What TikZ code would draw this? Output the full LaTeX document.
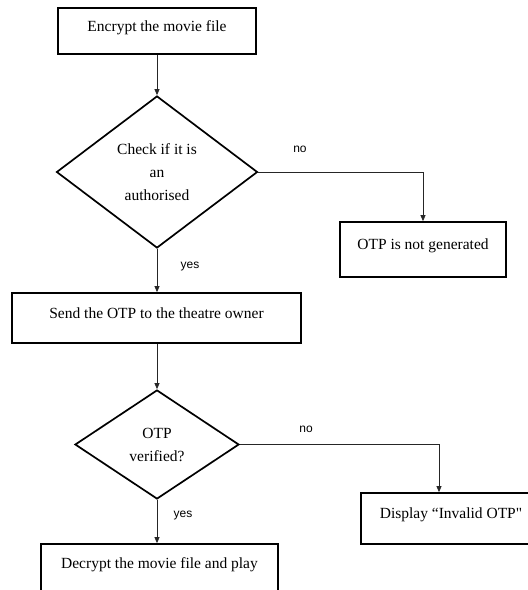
\documentclass[tikz,border=0pt]{standalone}
\usepackage{fontspec}
\setmainfont{Liberation Serif}
\newfontfamily\plainserif[Ligatures=TeXOff]{Liberation Serif}
\newfontfamily\labelfont{Liberation Sans}
\usetikzlibrary{shapes.geometric,arrows.meta}

\tikzset{
  stepbox/.style={draw, line width=1.7pt, rectangle, inner sep=0pt,
    font=\fontsize{15.5}{17}\selectfont, text height=10pt, text depth=10pt},
  decision/.style={draw, line width=1.7pt, diamond, inner sep=0pt,
    align=center, font=\fontsize{15.5}{23}\selectfont},
  flow/.style={draw=black!85, line width=0.7pt, -{Triangle[length=6pt,width=5pt]}},
  branch/.style={font=\labelfont\fontsize{12}{14}\selectfont},
}

\begin{document}
\begin{tikzpicture}[x=1pt, y=-1pt]
  \useasboundingbox (0,0) rectangle (528,590);
  \clip (0,0) rectangle (528,590);

  % process boxes
  \node[stepbox, minimum width=198pt, minimum height=46pt] (encrypt) at (157,31) {Encrypt the movie file};
  \node[stepbox, minimum width=166pt, minimum height=55pt] (nootp) at (423,249.5) {OTP is not generated};
  \node[stepbox, minimum width=289pt, minimum height=50pt] (send) at (156.5,318) {Send the OTP to the theatre owner};
  \node[stepbox, minimum width=180pt, minimum height=51pt] (invalid) at (451,518.5) {Display “Invalid OTP{\plainserif "}};
  \node[stepbox, minimum width=237pt, minimum height=49pt] (decrypt) at (159.5,568.5) {Decrypt the movie file and play};

  % decisions
  \node[decision, minimum width=201pt, minimum height=152pt] (auth) at (157,172) {Check if it is\\an\\authorised};
  \node[decision, minimum width=164pt, minimum height=109pt] (verify) at (157,444.5) {OTP\\verified?};

  % connectors
  \draw[flow] (encrypt.south) -- (auth.north);
  \draw[flow] (auth.east) -| (nootp.north);
  \draw[flow] (auth.south) -- (send.north -| auth.south);
  \draw[flow] (send.south -| verify.north) -- (verify.north);
  \coordinate (invalidin) at ([xshift=-12pt]invalid.north);
  \draw[flow] (verify.east) -| (invalidin);
  \draw[flow] (verify.south) -- (decrypt.north -| verify.south);

  % branch labels
  \node[branch] (noA) at (300,149) {no};
  \node[branch] (yesA) at (190,267) {yes};
  \node[branch] (noB) at (306,429) {no};
  \node[branch] (yesB) at (183,516) {yes};
\end{tikzpicture}
\end{document}
